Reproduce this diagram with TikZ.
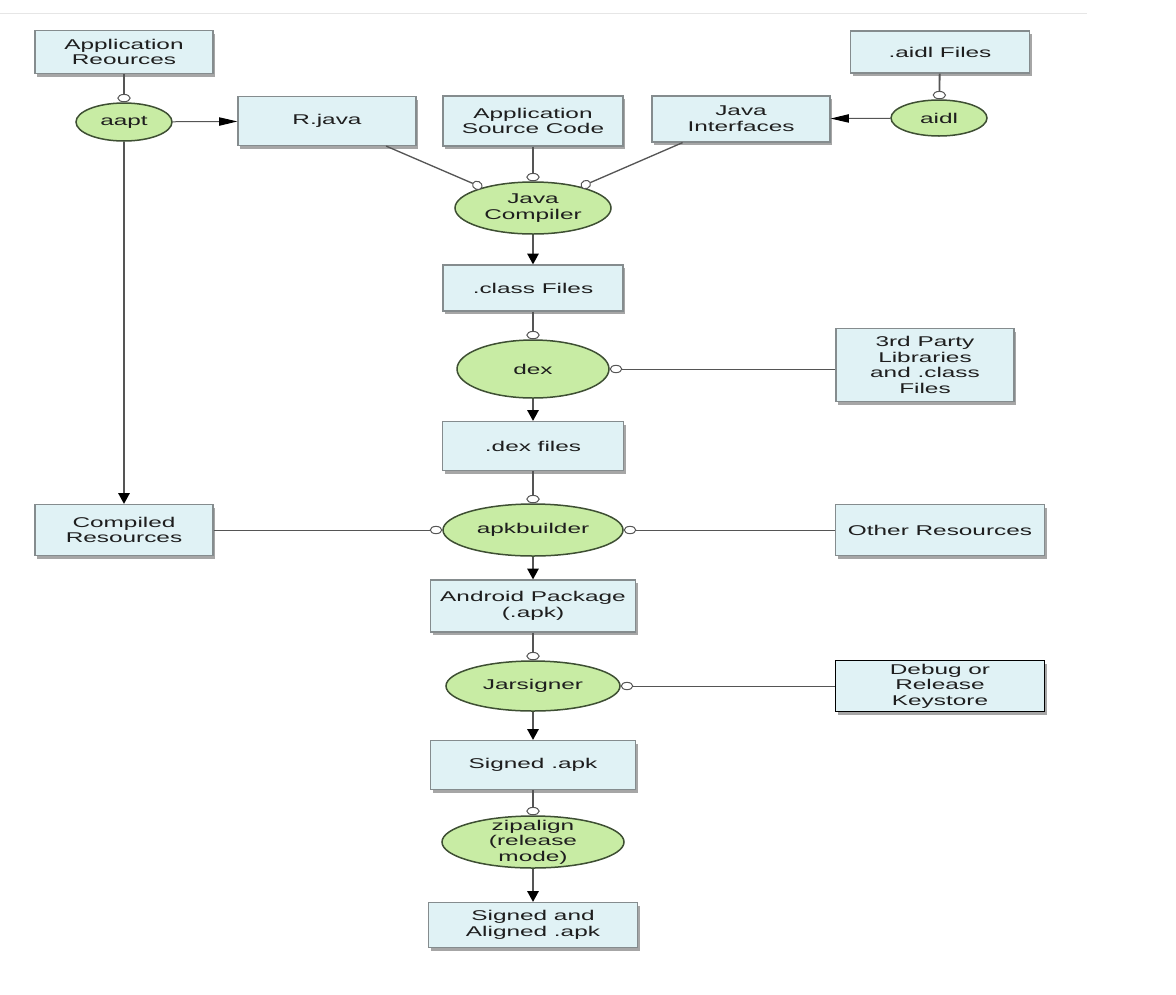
\documentclass[tikz,border=0pt]{standalone}
\usepackage{fontspec}
\setmainfont{Liberation Sans}[FakeStretch=1.72]
\usetikzlibrary{shapes.geometric,arrows.meta,shadows,calc}
\definecolor{boxfill}{HTML}{E0F2F5}
\definecolor{boxline}{HTML}{858C8E}
\definecolor{procfill}{HTML}{C8ECA4}
\definecolor{procline}{HTML}{3E4F33}
\definecolor{conn}{HTML}{555555}
\definecolor{txt}{HTML}{1E1E1E}
\definecolor{topl}{HTML}{E6E6E6}
\tikzset{
  box/.style={draw=boxline, fill=boxfill, line width=0.7pt, inner sep=0pt, align=center, text=txt,
    drop shadow={shadow xshift=1.2pt, shadow yshift=-1.8pt, fill=black, opacity=0.35}},
  bsz/.style 2 args={minimum width=#1*0.6pt, minimum height=#2*0.6pt},
  proc/.style={ellipse, draw=procline, fill=procfill, line width=0.9pt, inner sep=0pt, align=center, text=txt},
  esz/.style 2 args={minimum width=#1*1.2pt, minimum height=#2*1.2pt},
  lbl/.style={align=center, text=txt, inner sep=0pt},
  inv/.style={draw=conn, line width=1.1pt, -{Circle[length=5pt,width=8pt,fill=white,line width=0.6pt]}},
  inh/.style={draw=conn, line width=0.6pt, -{Circle[length=7.5pt,width=5pt,fill=white,line width=0.6pt]}},
  ind/.style={draw=conn, line width=0.8pt, -{Circle[length=6.5pt,width=5.5pt,fill=white,line width=0.6pt]}},
  arv/.style={draw=conn, line width=1.1pt, -{Triangle[length=6.5pt,width=6.8pt,fill=black,color=black]}},
  arh/.style={draw=conn, line width=0.6pt, -{Triangle[length=11pt,width=5pt,fill=black,color=black]}},
}
\begin{document}
\begin{tikzpicture}[x=0.6pt,y=-0.6pt, font=\fontsize{8.5pt}{9.4pt}\selectfont]
\useasboundingbox (0,0) rectangle (1176,994);
\draw[topl, line width=0.6pt] (0,13) -- (1087,13);

\node[box,bsz={178}{43}] (appres) at (124,52) {Application\\Reources};
\node[proc,esz={48}{19}] (aapt) at (124,122) {aapt};
\node[box,bsz={178}{49}] (rjava) at (327,121) {R.java};
\node[box,bsz={180}{50}] (appsrc) at (533,121) {Application\\Source Code};
\node[box,bsz={178}{46}] (javaint) at (741,119) {Java\\Interfaces};
\node[box,bsz={179}{42}] (aidlf) at (940,52) {.aidl Files};
\node[proc,esz={48}{18}] (aidl) at (939,118) {aidl};
\node[proc,esz={78}{26}] (javac) at (533,208) {Java\\Compiler};
\node[box,bsz={180}{46}] (classf) at (533,288) {.class Files};
\node[proc,esz={76}{29}] (dex) at (533,369) {dex};
\node[box,bsz={178}{73}] (third) at (925,365) {3rd Party\\Libraries\\and .class\\Files};
\node[box,bsz={181}{49}] (dexf) at (533,446) {.dex files};
\node[proc,esz={90}{26}] (apkb) at (533,530) {apkbuilder};
\node[box,bsz={178}{51}] (compres) at (124,530) {Compiled\\Resources};
\node[box,bsz={209}{51}] (otherres) at (940,530) {Other Resources};
\node[box,bsz={205}{52}] (apk) at (533,606) {Android Package\\(.apk)};
\node[proc,esz={87}{25}] (jar) at (533,686) {Jarsigner};
\node[box,bsz={209}{51},draw=black] (keys) at (940,686) {Debug or\\Release\\Keystore};
\node[box,bsz={205}{49}] (signed) at (533,765) {Signed .apk};
\node[proc,esz={91}{26},label={[lbl]center:zipalign\\(release\\mode)}] (zip) at (533,842) {};
\node[box,bsz={209}{45}] (aligned) at (533,925) {Signed and\\Aligned .apk};

\draw[inv] (appres) -- (aapt);
\draw[arh] (aapt) -- (rjava);
\draw[arv] (aapt) -- (aapt |- compres.north);
\draw[inv] (aidlf) -- (aidl);
\draw[arh] (aidl) -- (javaint);
\draw[ind] (rjava.-23) -- (javac.158);
\draw[inv] (appsrc) -- (javac);
\draw[ind] (javaint.202) -- (javac.24);
\draw[arv] (javac) -- (classf);
\draw[inv] (classf) -- (dex);
\draw[inh] (third.west |- dex.east) -- (dex);
\draw[arv] (dex) -- (dexf);
\draw[inv] (dexf) -- (apkb);
\draw[inh] (compres) -- (apkb);
\draw[inh] (otherres) -- (apkb);
\draw[arv] (apkb) -- (apk);
\draw[inv] (apk) -- (jar);
\draw[inh] (keys) -- (jar);
\draw[arv] (jar) -- (signed);
\draw[inv] (signed) -- (zip);
\draw[arv] (zip) -- (aligned);
\end{tikzpicture}
\end{document}
